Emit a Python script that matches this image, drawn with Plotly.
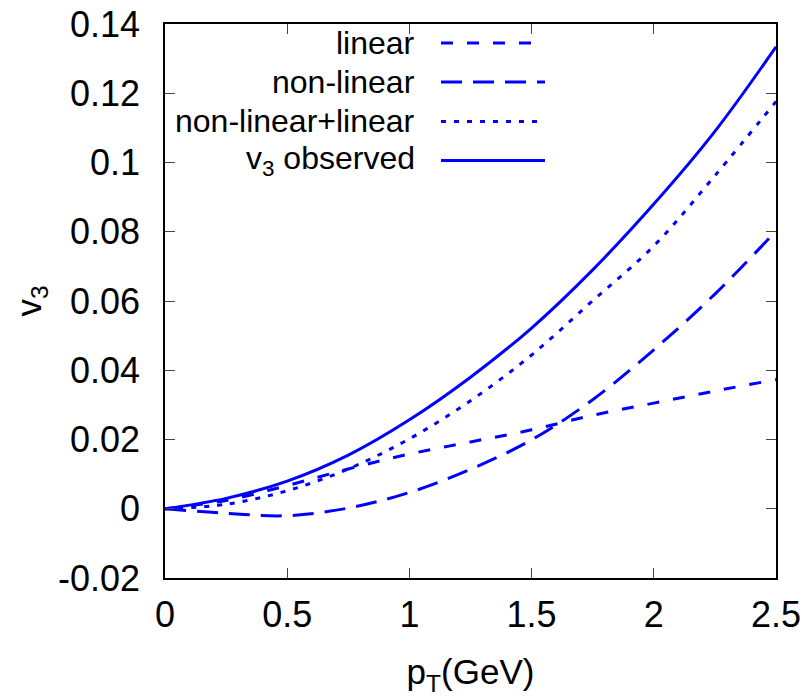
import plotly.graph_objects as go

# ---- data ----
pt = [0.0, 0.25, 0.5, 0.75, 1.0, 1.25, 1.5, 1.75, 2.0, 2.25, 2.5]
v3_linear = [0.0, 0.0024, 0.0067, 0.0115, 0.0158, 0.0193, 0.0228, 0.0270, 0.0305, 0.0340, 0.0373]
v3_nonlinear = [0.0, -0.0013, -0.0020, 0.0002, 0.0047, 0.0114, 0.0199, 0.0315, 0.0459, 0.0620, 0.0802]
v3_sum = [0.0, 0.0013, 0.0052, 0.0115, 0.0202, 0.0312, 0.0444, 0.0601, 0.0759, 0.0962, 0.1176]
v3_observed = [0.0, 0.0030, 0.0080, 0.0155, 0.0257, 0.0380, 0.0522, 0.0690, 0.0880, 0.1090, 0.1334]

series_names = ["linear", "non-linear", "non-linear+linear", "v<sub>3</sub> observed"]
series_values = [v3_linear, v3_nonlinear, v3_sum, v3_observed]
series_dash = ["12px,14px", "21px,11px", "5px,8px", "solid"]

x_tickvals = [0, 0.5, 1, 1.5, 2, 2.5]
x_ticktext = ["0", "0.5", "1", "1.5", "2", "2.5"]
y_tickvals = [-0.02, 0, 0.02, 0.04, 0.06, 0.08, 0.1, 0.12, 0.14]
y_ticktext = ["-0.02", "0", "0.02", "0.04", "0.06", "0.08", "0.1", "0.12", "0.14"]

BLUE = "#0000ff"
FONT = "Liberation Sans, Arial, sans-serif"

fig = go.Figure()
for name, vals, dash in zip(series_names, series_values, series_dash):
    fig.add_trace(go.Scatter(
        x=pt, y=vals, mode="lines", name=name, showlegend=False,
        line=dict(color=BLUE, width=3, dash=dash, shape="spline", smoothing=1.0),
    ))

# custom gnuplot-style key: right-aligned text, sample line on the right
W, H = 811, 698
ml, mr, mt, mb = 165, 35, 24, 120
pw, ph = W - ml - mr, H - mt - mb
row_y = [43, 82, 121.5, 160.5]
for name, dash, yy in zip(series_names, series_dash, row_y):
    yp = (H - mb - yy) / ph
    fig.add_annotation(
        x=(417 - ml) / pw, y=yp, xref="paper", yref="paper",
        text=name, showarrow=False, xanchor="right", yanchor="middle",
        font=dict(size=32, color="black", family=FONT),
    )
    fig.add_shape(
        type="line", xref="paper", yref="paper",
        x0=(441 - ml) / pw, x1=(545 - ml) / pw, y0=yp, y1=yp,
        line=dict(color=BLUE, width=3, dash=dash),
    )

axis_common = dict(
    showline=True, linecolor="black", linewidth=1.5, mirror="ticks",
    ticks="inside", ticklen=10, tickwidth=1.2, tickcolor="#444",
    showgrid=False, zeroline=False,
    tickfont=dict(size=36, color="black", family=FONT),
)

fig.update_xaxes(
    range=[0, 2.5], tickvals=x_tickvals, ticktext=x_ticktext,
    title=dict(text="p<sub>T</sub>(GeV)", font=dict(size=35, color="black", family=FONT), standoff=26),
    ticklabelstandoff=4, **axis_common,
)
fig.update_yaxes(
    range=[-0.02, 0.14], tickvals=y_tickvals, ticktext=y_ticktext,
    title=dict(text="v<sub>3</sub>", font=dict(size=35, color="black", family=FONT), standoff=6),
    ticklabelstandoff=16, **axis_common,
)

fig.update_layout(
    width=W, height=H,
    margin=dict(l=ml, r=mr, t=mt, b=mb, autoexpand=False),
    paper_bgcolor="white", plot_bgcolor="white",
    font=dict(family=FONT, color="black"),
)

fig.write_html("out.html")
